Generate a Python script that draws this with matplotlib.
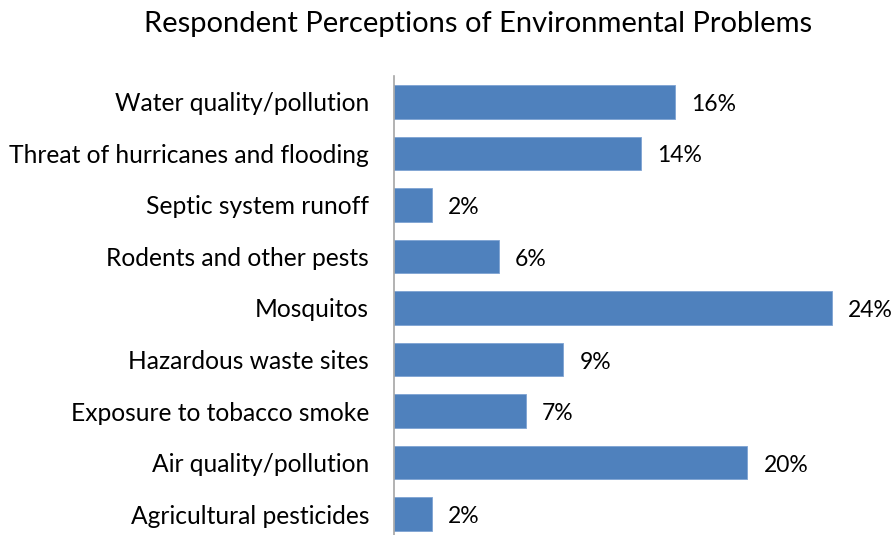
import matplotlib
matplotlib.use('Agg')
import matplotlib.pyplot as plt

# Categories, top to bottom as shown
categories = [
    'Water quality/pollution',
    'Threat of hurricanes and flooding',
    'Septic system runoff',
    'Rodents and other pests',
    'Mosquitos',
    'Hazardous waste sites',
    'Exposure to tobacco smoke',
    'Air quality/pollution',
    'Agricultural pesticides',
]
# Share of respondents (%)
shares = [15.6, 13.7, 2.1, 5.8, 24.3, 9.4, 7.3, 19.6, 2.1]

plt.rcParams['font.family'] = ['Lato', 'DejaVu Sans']

fig = plt.figure(figsize=(8.96, 5.35), dpi=100)
W, H = 896, 535
ax_left, ax_top, ax_bottom, ax_right = 394, 76, 540, 894
ax = fig.add_axes([ax_left / W, 1 - ax_bottom / H,
                   (ax_right - ax_left) / W, (ax_bottom - ax_top) / H])

ypos = list(range(len(categories)))
ax.barh(ypos, shares, height=0.65, color='#4F81BD', edgecolor='#7EA3D3', linewidth=0.6)
ax.set_ylim(len(categories) - 0.5, -0.5)
ax.set_xlim(0, (ax_right - ax_left) / 18.02)

for y, v in zip(ypos, shares):
    ax.text(v + 0.9, y + 0.05, f'{v:.0f}%', va='center', ha='left', fontsize=16.5, color='black')

ax.set_yticks(ypos)
ax.set_yticklabels(categories, fontsize=17.7)
ax.tick_params(axis='y', length=0, pad=18)
ax.set_xticks([])
for s in ['top', 'right', 'bottom']:
    ax.spines[s].set_visible(False)
ax.spines['left'].set_color('#A6A6A6')
ax.spines['left'].set_linewidth(1.2)

fig.text(478 / W, 1 - 24 / H, 'Respondent Perceptions of Environmental Problems',
         ha='center', va='center', fontsize=21)

fig.savefig('out.png', dpi=100)
